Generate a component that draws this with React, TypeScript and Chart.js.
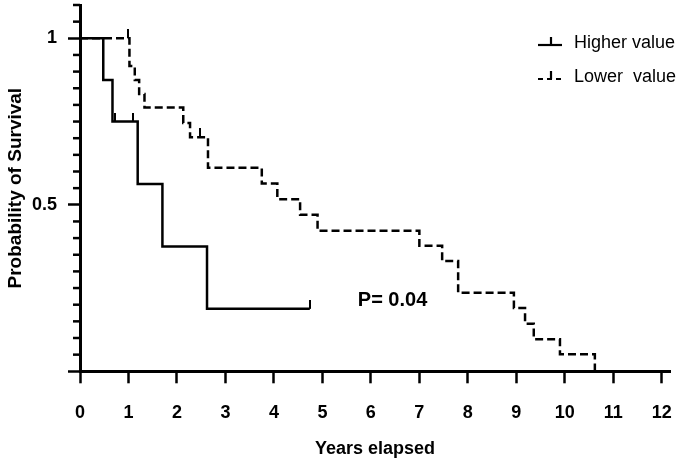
import React, { useEffect, useRef } from 'react';
import { Chart, registerables } from 'chart.js';

Chart.register(...registerables);

const FONT = "'Liberation Sans', Arial, Helvetica, sans-serif";

// Kaplan–Meier step points (time in years, survival probability after the event)
const higherTimes = [0, 0.48, 0.67, 1.19, 1.7, 2.62, 4.74];
const higherSurv = [1, 0.875, 0.75, 0.5625, 0.375, 0.1875, 0.1875];
const higherCensorTimes = [0.72, 1.1, 4.74];
const higherCensorSurv = [0.75, 0.75, 0.1875];

const lowerTimes = [0, 1.02, 1.13, 1.22, 1.33, 2.13, 2.27, 2.64, 3.75, 4.07, 4.54, 4.9, 7.0, 7.47, 7.8, 8.95, 9.18, 9.36, 9.9, 10.62];
const lowerSurv = [1, 0.917, 0.875, 0.833, 0.792, 0.746, 0.703, 0.611, 0.564, 0.517, 0.47, 0.422, 0.377, 0.331, 0.236, 0.19, 0.143, 0.0965, 0.051, 0];
const lowerCensorTimes = [0.99, 2.47];
const lowerCensorSurv = [1, 0.703];

const xTickValues = [0, 1, 2, 3, 4, 5, 6, 7, 8, 9, 10, 11, 12];
const yMinorStep = 0.05;
const yLabelled = [0.5, 1];
const legendLabels = ['Higher value', 'Lower  value'];
const pValueText = 'P= 0.04';
const pValuePos = { x: 5.73, y: 0.213 };

const zip = (xs: number[], ys: number[]) => xs.map((x, i) => ({ x, y: ys[i] }));

export default function App() {
  const ref = useRef<HTMLCanvasElement>(null);

  useEffect(() => {
    if (!ref.current) return;
    const censor = document.createElement('canvas');
    censor.width = 2;
    censor.height = 18;
    const cc = censor.getContext('2d')!;
    cc.fillStyle = '#000';
    cc.fillRect(0, 0, 2, 9);

    const decor = {
      id: 'kmDecor',
      afterDraw(chart: any) {
        const ctx = chart.ctx;
        const ys = chart.scales.y;
        const xs = chart.scales.x;
        const area = chart.chartArea;
        ctx.save();
        // minor y ticks
        ctx.strokeStyle = '#000';
        ctx.lineWidth = 2.5;
        for (let k = 1; k <= 22; k++) {
          if (k % 10 === 0) continue;
          const py = ys.getPixelForValue(k * yMinorStep);
          ctx.beginPath();
          ctx.moveTo(ys.right - 7, py);
          ctx.lineTo(ys.right, py);
          ctx.stroke();
        }
        // p-value
        ctx.fillStyle = '#000';
        ctx.font = `bold 20px ${FONT}`;
        ctx.textAlign = 'left';
        ctx.textBaseline = 'middle';
        ctx.fillText(pValueText, xs.getPixelForValue(pValuePos.x), ys.getPixelForValue(pValuePos.y));
        // legend
        const lx0 = area.right - 132;
        const lx1 = lx0 + 24;
        const rows = [area.top + 38, area.top + 72];
        ctx.font = `18px ${FONT}`;
        rows.forEach((ry, i) => {
          ctx.lineWidth = 2.2;
          ctx.setLineDash(i === 0 ? [] : [5, 4]);
          ctx.beginPath();
          ctx.moveTo(lx0, ry + 2);
          ctx.lineTo(lx1, ry + 2);
          ctx.stroke();
          ctx.setLineDash([]);
          ctx.beginPath();
          ctx.moveTo(lx0 + 13, ry + 2);
          ctx.lineTo(lx0 + 13, ry - 6);
          ctx.stroke();
          ctx.fillText(legendLabels[i], lx1 + 12, ry);
        });
        ctx.restore();
      },
    };

    const chart = new Chart(ref.current, {
      type: 'line',
      data: {
        datasets: [
          {
            label: legendLabels[0],
            data: zip(higherTimes, higherSurv),
            stepped: 'before',
            borderColor: '#000',
            borderWidth: 2.5,
            pointRadius: 0,
            fill: false,
          },
          {
            label: legendLabels[1],
            data: zip(lowerTimes, lowerSurv),
            stepped: 'before',
            borderColor: '#000',
            borderWidth: 2.5,
            borderDash: [8, 4],
            pointRadius: 0,
            fill: false,
          },
          {
            label: 'censor-h',
            data: zip(higherCensorTimes, higherCensorSurv),
            showLine: false,
            pointStyle: censor as any,
            pointRadius: 3,
          },
          {
            label: 'censor-l',
            data: zip(lowerCensorTimes, lowerCensorSurv),
            showLine: false,
            pointStyle: censor as any,
            pointRadius: 3,
          },
        ],
      },
      options: {
        animation: false,
        responsive: true,
        maintainAspectRatio: false,
        layout: { padding: { top: 3, right: 10, left: 0, bottom: 0 } },
        plugins: { legend: { display: false }, tooltip: { enabled: false } },
        scales: {
          x: {
            type: 'linear',
            min: 0,
            max: 12.17,
            afterBuildTicks: (s: any) => {
              s.ticks = xTickValues.map((v) => ({ value: v }));
            },
            afterFit: (s: any) => {
              s.height = 93.7;
              s.paddingLeft = 0;
              s.paddingRight = 0;
            },
            grid: { drawOnChartArea: false, tickLength: 12, tickWidth: 2.5, tickColor: '#000' },
            border: { color: '#000', width: 3 },
            ticks: {
              color: '#000',
              padding: 19,
              maxRotation: 0,
              autoSkip: false,
              font: { family: FONT, size: 18, weight: 'bold' },
            },
            title: {
              display: true,
              text: 'Years elapsed',
              color: '#000',
              padding: { top: 0, bottom: 5 },
              font: { family: FONT, size: 18, weight: 'bold' },
            },
          },
          y: {
            type: 'linear',
            min: 0,
            max: 1.1,
            afterBuildTicks: (s: any) => {
              const t = [];
              for (let k = 0; k <= 22; k++) t.push({ value: Math.round(k * yMinorStep * 100) / 100 });
              s.ticks = t;
            },
            afterFit: (s: any) => {
              s.width = 80;
              s.paddingTop = 0;
              s.paddingBottom = 0;
            },
            grid: {
              drawOnChartArea: false,
              tickLength: 12,
              tickWidth: 2.5,
              tickColor: (c: any) => {
                const v = c.tick ? c.tick.value : 0;
                return Math.abs(v * 2 - Math.round(v * 2)) < 1e-6 && v <= 1 ? '#000' : 'rgba(0,0,0,0)';
              },
            },
            border: { color: '#000', width: 3 },
            ticks: {
              color: '#000',
              padding: 11,
              autoSkip: false,
              font: { family: FONT, size: 18, weight: 'bold' },
              callback: (v: any) => (yLabelled.some((l) => Math.abs(l - Number(v)) < 1e-6) ? String(v) : ''),
            },
            title: {
              display: true,
              text: 'Probability of Survival',
              color: '#000',
              padding: { top: 4, bottom: 0 },
              font: { family: FONT, size: 19, weight: 'bold' },
            },
          },
        },
      },
      plugins: [decor],
    } as any);

    return () => chart.destroy();
  }, []);

  return (
    <div style={{ position: 'fixed', left: 0, top: 0, width: 680, height: 465, background: '#fff' }}>
      <canvas ref={ref} />
    </div>
  );
}
